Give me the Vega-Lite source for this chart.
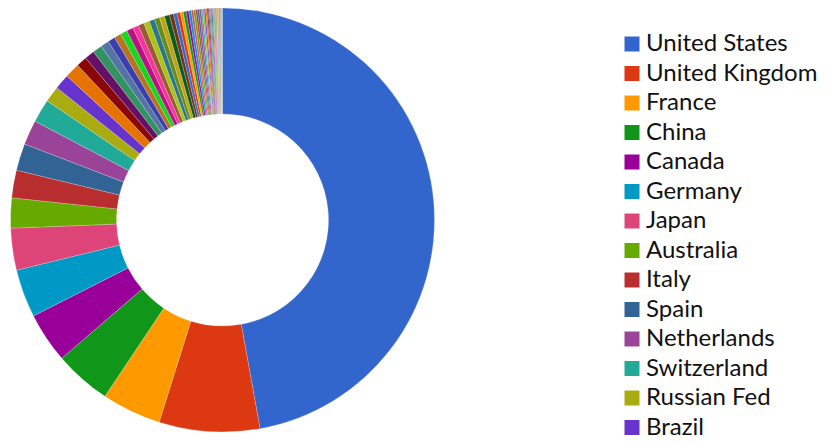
{
  "$schema": "https://vega.github.io/schema/vega-lite/v6.json",
  "width": 445,
  "height": 440,
  "padding": 0,
  "background": "white",
  "view": {"stroke": null},
  "data": {
    "values": [
      {"rank": 1, "country": "United States", "count": 1698},
      {"rank": 2, "country": "United Kingdom", "count": 276},
      {"rank": 3, "country": "France", "count": 163},
      {"rank": 4, "country": "China", "count": 156},
      {"rank": 5, "country": "Canada", "count": 138},
      {"rank": 6, "country": "Germany", "count": 132},
      {"rank": 7, "country": "Japan", "count": 115},
      {"rank": 8, "country": "Australia", "count": 82},
      {"rank": 9, "country": "Italy", "count": 76},
      {"rank": 10, "country": "Spain", "count": 74},
      {"rank": 11, "country": "Netherlands", "count": 68},
      {"rank": 12, "country": "Switzerland", "count": 64},
      {"rank": 13, "country": "Russian Fed", "count": 44},
      {"rank": 14, "country": "Brazil", "count": 42},
      {"rank": 15, "country": "India", "count": 41},
      {"rank": 16, "country": "Sweden", "count": 29},
      {"rank": 17, "country": "Belgium", "count": 27},
      {"rank": 18, "country": "South Korea", "count": 26},
      {"rank": 19, "country": "Israel", "count": 23},
      {"rank": 20, "country": "Denmark", "count": 20},
      {"rank": 21, "country": "Austria", "count": 19},
      {"rank": 22, "country": "Poland", "count": 19},
      {"rank": 23, "country": "Mexico", "count": 18},
      {"rank": 24, "country": "Norway", "count": 16},
      {"rank": 25, "country": "Finland", "count": 16},
      {"rank": 26, "country": "Taiwan", "count": 16},
      {"rank": 27, "country": "Ireland", "count": 15},
      {"rank": 28, "country": "New Zealand", "count": 14},
      {"rank": 29, "country": "Singapore", "count": 14},
      {"rank": 30, "country": "Portugal", "count": 14},
      {"rank": 31, "country": "Greece", "count": 11},
      {"rank": 32, "country": "Turkey", "count": 10},
      {"rank": 33, "country": "Argentina", "count": 9},
      {"rank": 34, "country": "South Africa", "count": 8},
      {"rank": 35, "country": "Chile", "count": 8},
      {"rank": 36, "country": "Czech Republic", "count": 7},
      {"rank": 37, "country": "Hungary", "count": 7},
      {"rank": 38, "country": "Iran", "count": 6},
      {"rank": 39, "country": "Egypt", "count": 6},
      {"rank": 40, "country": "Hong Kong", "count": 5},
      {"rank": 41, "country": "Colombia", "count": 5},
      {"rank": 42, "country": "Thailand", "count": 5},
      {"rank": 43, "country": "Malaysia", "count": 4},
      {"rank": 44, "country": "Ukraine", "count": 4},
      {"rank": 45, "country": "Romania", "count": 4},
      {"rank": 46, "country": "Saudi Arabia", "count": 4},
      {"rank": 47, "country": "Pakistan", "count": 3},
      {"rank": 48, "country": "Nigeria", "count": 3},
      {"rank": 49, "country": "Indonesia", "count": 3},
      {"rank": 50, "country": "Vietnam", "count": 3},
      {"rank": 51, "country": "Peru", "count": 3},
      {"rank": 52, "country": "Slovenia", "count": 2.5},
      {"rank": 53, "country": "Croatia", "count": 2.5},
      {"rank": 54, "country": "Serbia", "count": 2},
      {"rank": 55, "country": "Estonia", "count": 2},
      {"rank": 56, "country": "Iceland", "count": 2},
      {"rank": 57, "country": "Luxembourg", "count": 2},
      {"rank": 58, "country": "Lithuania", "count": 2},
      {"rank": 59, "country": "Slovakia", "count": 1.5},
      {"rank": 60, "country": "Bulgaria", "count": 1.5},
      {"rank": 61, "country": "Kenya", "count": 1.5},
      {"rank": 62, "country": "Morocco", "count": 1.5},
      {"rank": 63, "country": "Tunisia", "count": 1},
      {"rank": 64, "country": "Uruguay", "count": 1},
      {"rank": 65, "country": "Venezuela", "count": 1},
      {"rank": 66, "country": "Philippines", "count": 1},
      {"rank": 67, "country": "Bangladesh", "count": 1},
      {"rank": 68, "country": "Cyprus", "count": 1}
    ]
  },
  "mark": {"type": "arc", "outerRadius": 212, "innerRadius": 106, "stroke": "#ffffff", "strokeWidth": 0.2},
  "encoding": {
    "theta": {"field": "count", "type": "quantitative", "stack": true},
    "order": {"field": "rank", "type": "quantitative", "sort": "ascending"},
    "color": {
      "field": "country",
      "type": "nominal",
      "sort": {"field": "rank", "op": "min"},
      "scale": {"range": ["#3366cc", "#dc3912", "#ff9900", "#109618", "#990099", "#0099c6", "#dd4477", "#66aa00", "#b82e2e", "#316395", "#994499", "#22aa99", "#aaaa11", "#6633cc", "#e67300", "#8b0707", "#651067", "#329262", "#5574a6", "#3b3eac", "#b77322", "#16d620", "#b91383", "#f4359e", "#9c5935", "#a9c413", "#2a778d", "#668d1c", "#bea413", "#0c5922", "#743411"]},
      "legend": {
        "title": null,
        "orient": "none",
        "legendX": 620,
        "legendY": 32,
        "padding": 0,
        "offset": 0,
        "values": ["United States", "United Kingdom", "France", "China", "Canada", "Germany", "Japan", "Australia", "Italy", "Spain", "Netherlands", "Switzerland", "Russian Fed", "Brazil"],
        "symbolType": "square",
        "symbolSize": 225,
        "symbolStrokeWidth": 0,
        "labelFont": "Lato",
        "labelFontSize": 24,
        "labelColor": "#111111",
        "labelOffset": 2,
        "labelLimit": 300,
        "rowPadding": 5.5
      }
    },
    "tooltip": [{"field": "country"}, {"field": "count"}]
  }
}
